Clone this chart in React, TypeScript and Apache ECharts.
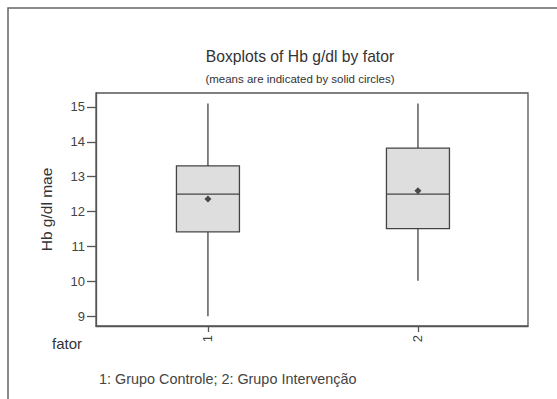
import React, { useEffect, useRef } from "react";
import * as echarts from "echarts";

const categories = [1, 2];
const categoryLabels = ["1", "2"];
// [min, Q1, median, Q3, max]
const boxValues = [
  [9.0, 11.42, 12.5, 13.31, 15.1],
  [10.02, 11.51, 12.5, 13.82, 15.1],
];
const means = [12.36, 12.6];
const yTicks = [9, 10, 11, 12, 13, 14, 15];

const FONT = "'Liberation Sans', Arial, sans-serif";
const BOX_W = 0.3;

export default function App() {
  const ref = useRef<HTMLDivElement>(null);
  useEffect(() => {
    const chart = echarts.init(ref.current!, null, { renderer: "svg" });
    const lineStyle = { stroke: "#444", lineWidth: 1.3 };
    chart.setOption({
      animation: false,
      backgroundColor: "#ffffff",
      textStyle: { fontFamily: FONT },
      title: [
        {
          text: "Boxplots of Hb g/dl by fator",
          left: 295,
          top: 43,
          textAlign: "center",
          textStyle: { fontFamily: FONT, fontSize: 15.7, fontWeight: "normal", color: "#333" },
        },
        {
          text: "(means are indicated by solid circles)",
          left: 295,
          top: 68,
          textAlign: "center",
          textStyle: { fontFamily: FONT, fontSize: 11.5, fontWeight: "normal", color: "#333" },
        },
      ],
      grid: {
        left: 96,
        top: 93,
        width: 432,
        height: 233,
        show: true,
        borderColor: "#555",
        borderWidth: 1.3,
        backgroundColor: "transparent",
      },
      xAxis: {
        type: "value",
        min: 0.467,
        max: 2.524,
        axisLine: { show: true, lineStyle: { color: "#555", width: 1.3 } },
        axisTick: { show: true, length: 6, customValues: categories, lineStyle: { color: "#555", width: 1.3 } },
        axisLabel: {
          rotate: 90,
          fontSize: 13,
          color: "#444",
          fontFamily: FONT,
          margin: 9,
          customValues: categories,
          formatter: (v: number) => categoryLabels[categories.indexOf(v)] ?? String(v),
        },
        splitLine: { show: false },
      },
      yAxis: {
        type: "value",
        min: 8.72,
        max: 15.4,
        name: "Hb g/dl mae",
        nameLocation: "middle",
        nameGap: 42,
        nameTextStyle: { fontSize: 15.5, color: "#333", fontFamily: FONT },
        axisLine: { show: true, lineStyle: { color: "#555", width: 1.3 } },
        axisTick: { show: true, length: 9, customValues: yTicks, lineStyle: { color: "#555", width: 1.3 } },
        axisLabel: { fontSize: 13, color: "#444", fontFamily: FONT, margin: 11, customValues: yTicks },
        splitLine: { show: false },
      },
      series: [
        {
          type: "custom",
          data: boxValues.map((b, i) => [categories[i], ...b]),
          encode: { x: 0, y: [1, 2, 3, 4, 5] },
          renderItem: (params: any, api: any) => {
            const x = api.value(0);
            const pMin = api.coord([x, api.value(1)]);
            const pQ1 = api.coord([x, api.value(2)]);
            const pMed = api.coord([x, api.value(3)]);
            const pQ3 = api.coord([x, api.value(4)]);
            const pMax = api.coord([x, api.value(5)]);
            const hw = api.size([BOX_W, 0])[0] / 2;
            const cx = pMed[0];
            return {
              type: "group",
              children: [
                { type: "line", shape: { x1: cx, y1: pMax[1], x2: cx, y2: pQ3[1] }, style: lineStyle },
                { type: "line", shape: { x1: cx, y1: pQ1[1], x2: cx, y2: pMin[1] }, style: lineStyle },
                {
                  type: "rect",
                  shape: { x: cx - hw, y: pQ3[1], width: hw * 2, height: pQ1[1] - pQ3[1] },
                  style: { fill: "#dedede", stroke: "#444", lineWidth: 1.3 },
                },
                { type: "line", shape: { x1: cx - hw, y1: pMed[1], x2: cx + hw, y2: pMed[1] }, style: lineStyle },
              ],
            };
          },
          z: 2,
        },
        {
          type: "scatter",
          data: means.map((m, i) => [categories[i], m]),
          symbol: "diamond",
          symbolSize: 7,
          itemStyle: { color: "#222" },
          z: 5,
        },
      ],
      graphic: [
        {
          type: "polyline",
          shape: { points: [[8, 399], [8, 8], [557, 8]] },
          style: { stroke: "#666", lineWidth: 1.5, fill: "none" },
        },
        {
          type: "text",
          x: 52,
          y: 343,
          style: { text: "fator", fontSize: 15, fill: "#333", fontFamily: FONT, verticalAlign: "middle" },
        },
        {
          type: "text",
          x: 99,
          y: 379,
          style: {
            text: "1: Grupo Controle; 2: Grupo Intervenção",
            fontSize: 14.4,
            fill: "#444",
            fontFamily: FONT,
            verticalAlign: "middle",
          },
        },
      ],
    });
    return () => chart.dispose();
  }, []);
  return (
    <div
      ref={ref}
      style={{ position: "fixed", left: 0, top: 0, width: 557, height: 399 }}
    />
  );
}
